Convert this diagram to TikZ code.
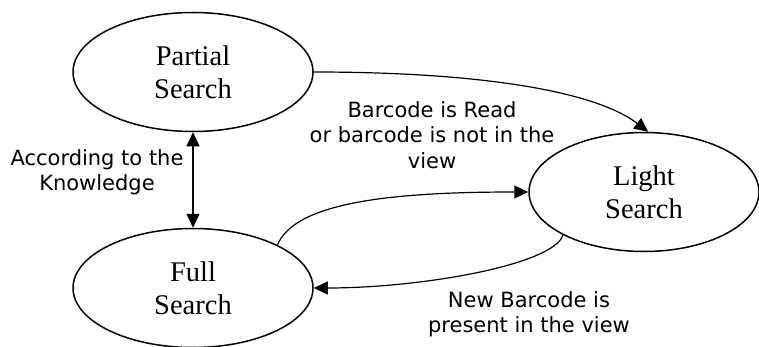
\documentclass[tikz,border=0pt]{standalone}
\usepackage{fontspec}
\setmainfont{Liberation Serif}
\newfontfamily\lbl{DejaVu Sans}
\usetikzlibrary{shapes.geometric,arrows.meta}
\tikzset{>={Triangle[length=14pt,width=13pt]},
  state/.style={draw,ellipse,line width=1.5pt,minimum width=240pt,minimum height=119pt,inner sep=0pt,align=center,font=\fontsize{28.5}{33}\selectfont},
  trans/.style={line width=1.2pt},
  cond/.style={align=center,font=\lbl\fontsize{21}{25.5}\selectfont}}

\begin{document}
\begin{tikzpicture}[x=1pt,y=1pt]
\useasboundingbox (0,0) rectangle (759,346);
% States:
\node (Partial) [state] at (193,274) {Partial\\Search};
\node (Full) [state] at (193,58) {Full\\Search};
\node (Light) [state,minimum width=230pt] at (644,154) {Light\\Search};
% Transitions:
\draw[trans,->] (Partial.east) .. controls +(160,0) and +(-55,42) .. (Light.86);
\draw[trans,<->] (Partial.south) -- (Full.north);
\draw[trans,->] (Full.27) .. controls +(18,44) and +(-130,0) .. (Light.west);
\draw[trans,->] (Light.208) .. controls +(-10,-30) and +(107,0) .. (Full.east);
\node (Read) [cond] at (432,211) {Barcode is Read\\or barcode is not in the\\view};
\node (Know) [cond] at (97,174) {According to the\\Knowledge};
\node (New) [cond] at (529,32) {New Barcode is\\present in the view};
\end{tikzpicture}
\end{document}
